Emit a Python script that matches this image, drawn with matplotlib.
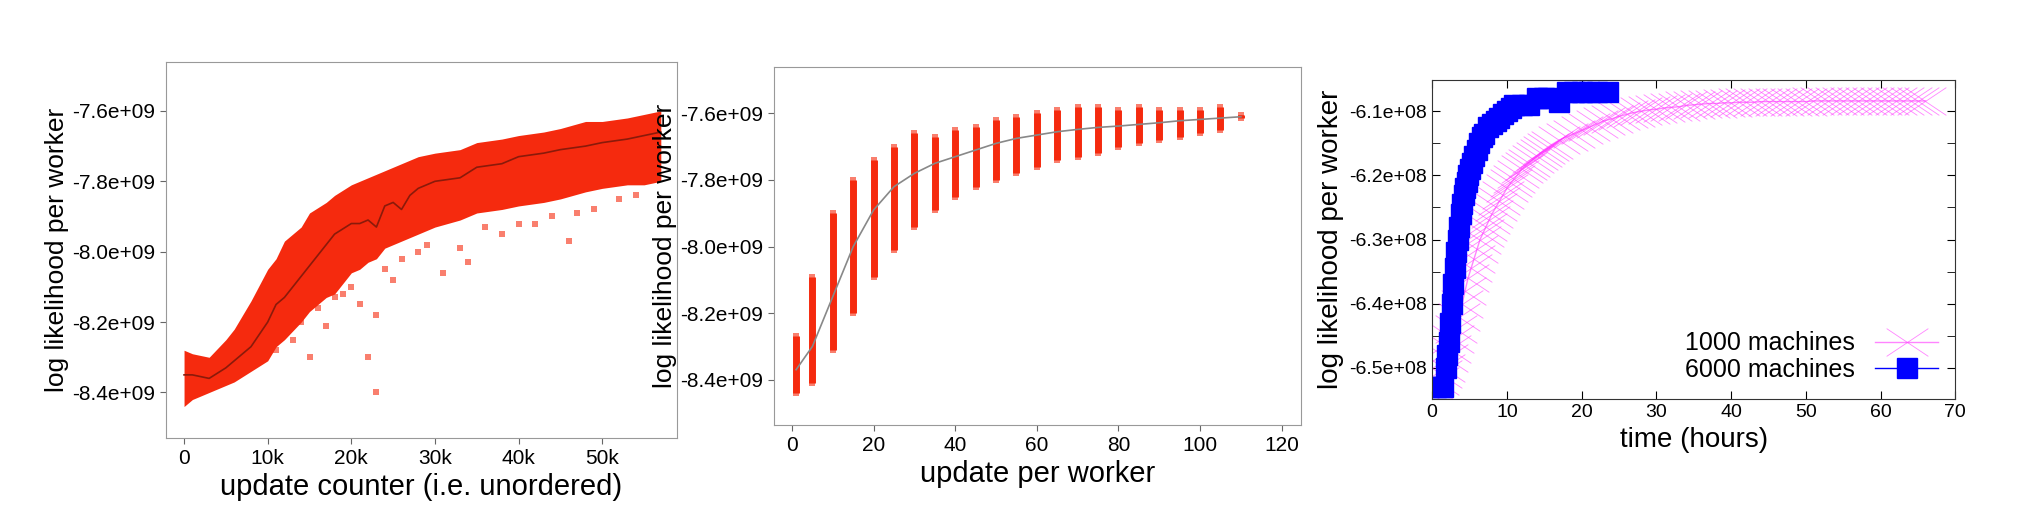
import matplotlib
matplotlib.use("Agg")
import matplotlib.pyplot as plt
from matplotlib.path import Path
from matplotlib.ticker import FuncFormatter, MultipleLocator

plt.rcParams["font.family"] = ["Liberation Sans", "DejaVu Sans"]

RED = "#f52a0e"

# panel 1: band of update counter scatter (x in thousands, values in 1e9)
p1_x = [0, 1, 3, 5, 6, 8, 10, 11, 12, 14, 15, 17, 18, 20, 21, 22, 23, 24, 25, 26, 27, 28,
        30, 33, 35, 38, 40, 43, 45, 48, 50, 53, 55, 57]
p1_lo = [-8.44, -8.42, -8.40, -8.38, -8.37, -8.34, -8.31, -8.27, -8.25, -8.20, -8.17,
         -8.13, -8.12, -8.06, -8.05, -8.03, -8.02, -7.99, -7.98, -7.97, -7.96, -7.95,
         -7.93, -7.91, -7.89, -7.88, -7.87, -7.86, -7.85, -7.83, -7.82, -7.81, -7.81, -7.80]
p1_hi = [-8.28, -8.29, -8.30, -8.25, -8.22, -8.14, -8.05, -8.02, -7.97, -7.93, -7.89,
         -7.86, -7.84, -7.81, -7.80, -7.79, -7.78, -7.77, -7.76, -7.75, -7.74, -7.73,
         -7.72, -7.71, -7.69, -7.68, -7.67, -7.66, -7.65, -7.63, -7.63, -7.62, -7.61, -7.60]
p1_mean = [-8.35, -8.35, -8.36, -8.33, -8.31, -8.27, -8.20, -8.15, -8.13, -8.07, -8.04,
           -7.98, -7.95, -7.92, -7.92, -7.91, -7.93, -7.87, -7.86, -7.88, -7.84, -7.82,
           -7.80, -7.79, -7.76, -7.75, -7.73, -7.72, -7.71, -7.70, -7.69, -7.68, -7.67, -7.66]
p1_out_x = [23, 22, 15, 46, 34, 31, 25, 23, 17, 19, 13, 28, 38, 42, 52, 21, 24, 16, 12,
            29, 36, 44, 49, 54, 20, 26, 33, 40, 47, 11, 14, 18]
p1_out_y = [-8.40, -8.30, -8.30, -7.97, -8.03, -8.06, -8.08, -8.18, -8.21, -8.12,
            -8.25, -8.00, -7.95, -7.92, -7.85, -8.15, -8.05, -8.16, -8.22, -7.98, -7.93,
            -7.90, -7.88, -7.84, -8.10, -8.02, -7.99, -7.92, -7.89, -8.28, -8.20, -8.13]

# panel 2: columns per update per worker
p2_x = [1, 5, 10, 15, 20, 25, 30, 35, 40, 45, 50, 55, 60, 65, 70, 75, 80, 85, 90, 95, 100, 105, 110]
p2_lo = [-8.44, -8.41, -8.31, -8.20, -8.09, -8.01, -7.94, -7.89, -7.85, -7.82, -7.80, -7.78,
         -7.76, -7.74, -7.73, -7.72, -7.70, -7.69, -7.68, -7.67, -7.66, -7.65, -7.615]
p2_hi = [-8.27, -8.09, -7.90, -7.80, -7.74, -7.70, -7.66, -7.67, -7.65, -7.64, -7.62, -7.61,
         -7.60, -7.59, -7.58, -7.58, -7.59, -7.58, -7.59, -7.59, -7.59, -7.58, -7.605]
p2_fit = [-8.37, -8.30, -8.15, -8.00, -7.89, -7.82, -7.78, -7.75, -7.73, -7.71, -7.69, -7.675,
          -7.665, -7.655, -7.648, -7.642, -7.638, -7.633, -7.628, -7.622, -7.618, -7.614, -7.61]

# panel 3: time (hours) vs log likelihood (1e8)
m1000_t = [0, 0.4, 0.8, 1.2, 1.6, 2.0, 2.4, 2.8, 3.2, 3.6, 4.0, 4.4, 4.8, 5.2, 5.6, 6.0,
           6.4, 6.8, 7.2, 7.6, 8.0, 8.5, 9.0, 9.5, 10, 10.5, 11, 11.5, 12, 12.5, 13, 13.5,
           14, 14.5, 15, 15.5, 16, 17, 18, 19, 20, 21, 22, 23, 24, 25, 26, 27, 28, 29, 30,
           31, 32, 33, 34, 35, 36, 37, 38, 39, 40, 41, 42, 43, 44, 45, 46, 47, 48, 49, 50,
           51, 52, 53, 54, 55, 56, 57, 58, 59, 60, 61, 62, 63, 64, 65, 66]
m1000_y = [-6.54, -6.53, -6.52, -6.51, -6.50, -6.485, -6.47, -6.455, -6.44, -6.42, -6.40,
           -6.38, -6.36, -6.345, -6.33, -6.315, -6.30, -6.29, -6.28, -6.27, -6.26, -6.25,
           -6.24, -6.23, -6.22, -6.212, -6.205, -6.198, -6.19, -6.185, -6.18, -6.175,
           -6.17, -6.165, -6.16, -6.156, -6.152, -6.145, -6.14, -6.135, -6.13, -6.125,
           -6.12, -6.115, -6.112, -6.108, -6.105, -6.102, -6.10, -6.098, -6.097, -6.095,
           -6.094, -6.093, -6.091, -6.090, -6.089, -6.088, -6.088, -6.087, -6.087, -6.086,
           -6.086, -6.086, -6.085, -6.085, -6.085, -6.085, -6.085, -6.085, -6.085, -6.084,
           -6.084, -6.084, -6.084, -6.084, -6.084, -6.084, -6.084, -6.084, -6.084, -6.084,
           -6.084, -6.084, -6.084, -6.084, -6.084]
m6000_t = [0.5, 1.0, 1.5, 1.8, 2.0, 2.2, 2.4, 2.6, 2.8, 3.0, 3.2, 3.4, 3.6, 3.8, 4.0, 4.2,
           4.4, 4.6, 4.8, 5.0, 5.3, 5.6, 6.0, 6.3, 6.6, 7.0, 7.5, 8.0, 8.5, 9.0, 9.5, 10.0,
           10.5, 11, 12, 13, 14, 15, 15.5, 17, 18, 19, 20, 21, 22, 23.5]
m6000_y = [-6.53, -6.53, -6.53, -6.50, -6.48, -6.46, -6.43, -6.40, -6.37, -6.345, -6.32,
           -6.30, -6.28, -6.26, -6.245, -6.23, -6.22, -6.21, -6.20, -6.19, -6.18, -6.17,
           -6.16, -6.15, -6.14, -6.135, -6.125, -6.12, -6.115, -6.11, -6.105, -6.10,
           -6.095, -6.09, -6.09, -6.09, -6.08, -6.08, -6.08, -6.085, -6.07, -6.07, -6.07,
           -6.07, -6.07, -6.07]

# wide "x" marker like gnuplot's
WIDE_X = Path([(-1.5, -1), (1.5, 1), (-1.5, 1), (1.5, -1)],
              [Path.MOVETO, Path.LINETO, Path.MOVETO, Path.LINETO])


def style_r(ax):
    for s in ax.spines.values():
        s.set_color("#999999")
    ax.tick_params(labelsize=15, length=4, color="#666666")
    ax.yaxis.set_major_formatter(FuncFormatter(lambda v, p: f"{v:.1f}e+09"))


fig = plt.figure(figsize=(20.2, 5.18), dpi=100)

ax1 = fig.add_axes([0.082, 0.154, 0.253, 0.727])
ax1.fill_between(p1_x, p1_lo, p1_hi, color=RED, lw=0)
ax1.scatter(p1_out_x, p1_out_y, marker="s", s=16, color=RED, alpha=0.6, lw=0)
ax1.plot(p1_x, p1_mean, color="#8a1a0a", lw=1.2)
ax1.set_xlim(-2.2, 58.9)
ax1.set_ylim(-8.53, -7.46)
ax1.set_xticks([0, 10, 20, 30, 40, 50])
ax1.set_xticklabels(["0", "10k", "20k", "30k", "40k", "50k"])
ax1.set_yticks([-8.4, -8.2, -8.0, -7.8, -7.6])
style_r(ax1)
ax1.set_xlabel("update counter (i.e. unordered)", fontsize=21)
ax1.set_ylabel("log likelihood per worker", fontsize=19, labelpad=2)

ax2 = fig.add_axes([0.383, 0.179, 0.261, 0.692])
ax2.vlines(p2_x, p2_lo, p2_hi, color=RED, lw=5)
ax2.scatter(p2_x + p2_x, p2_lo + p2_hi, marker="s", s=18, color=RED, alpha=0.6, lw=0)
ax2.plot(p2_x, p2_fit, color="#888888", lw=1.2)
ax2.set_xlim(-4.5, 124.7)
ax2.set_ylim(-8.537, -7.46)
ax2.set_xticks([0, 20, 40, 60, 80, 100, 120])
ax2.set_yticks([-8.4, -8.2, -8.0, -7.8, -7.6])
style_r(ax2)
ax2.set_xlabel("update per worker", fontsize=21)
ax2.set_ylabel("log likelihood per worker", fontsize=19, labelpad=2)

ax3 = fig.add_axes([0.709, 0.229, 0.259, 0.617])
ax3.plot(m1000_t, m1000_y, color="#ff33ff", lw=1, marker=WIDE_X, ms=30, mew=0.6,
         alpha=0.6, label="1000 machines")
ax3.plot(m6000_t, m6000_y, color="#0000ff", lw=1, marker="s", ms=14,
         label="6000 machines")
ax3.set_xlim(0, 70)
ax3.set_ylim(-6.549, -6.051)
ax3.set_yticks([-6.5, -6.4, -6.3, -6.2, -6.1])
ax3.yaxis.set_minor_locator(MultipleLocator(0.05))
ax3.xaxis.set_major_locator(MultipleLocator(10))
ax3.yaxis.set_major_formatter(FuncFormatter(lambda v, p: f"{v:.1f}e+08"))
ax3.tick_params(which="both", direction="in", top=True, right=True, labelsize=14)
ax3.tick_params(which="both", length=6)
for s in ax3.spines.values():
    s.set_color("#333333")
ax3.set_xlabel("time (hours)", fontsize=20)
ax3.set_ylabel("log likelihood per worker", fontsize=20)
ax3.legend(loc="lower right", frameon=False, fontsize=18, markerfirst=False,
           handlelength=2.5, borderpad=0.2, labelspacing=0.1)

fig.savefig("out.png", dpi=100)
